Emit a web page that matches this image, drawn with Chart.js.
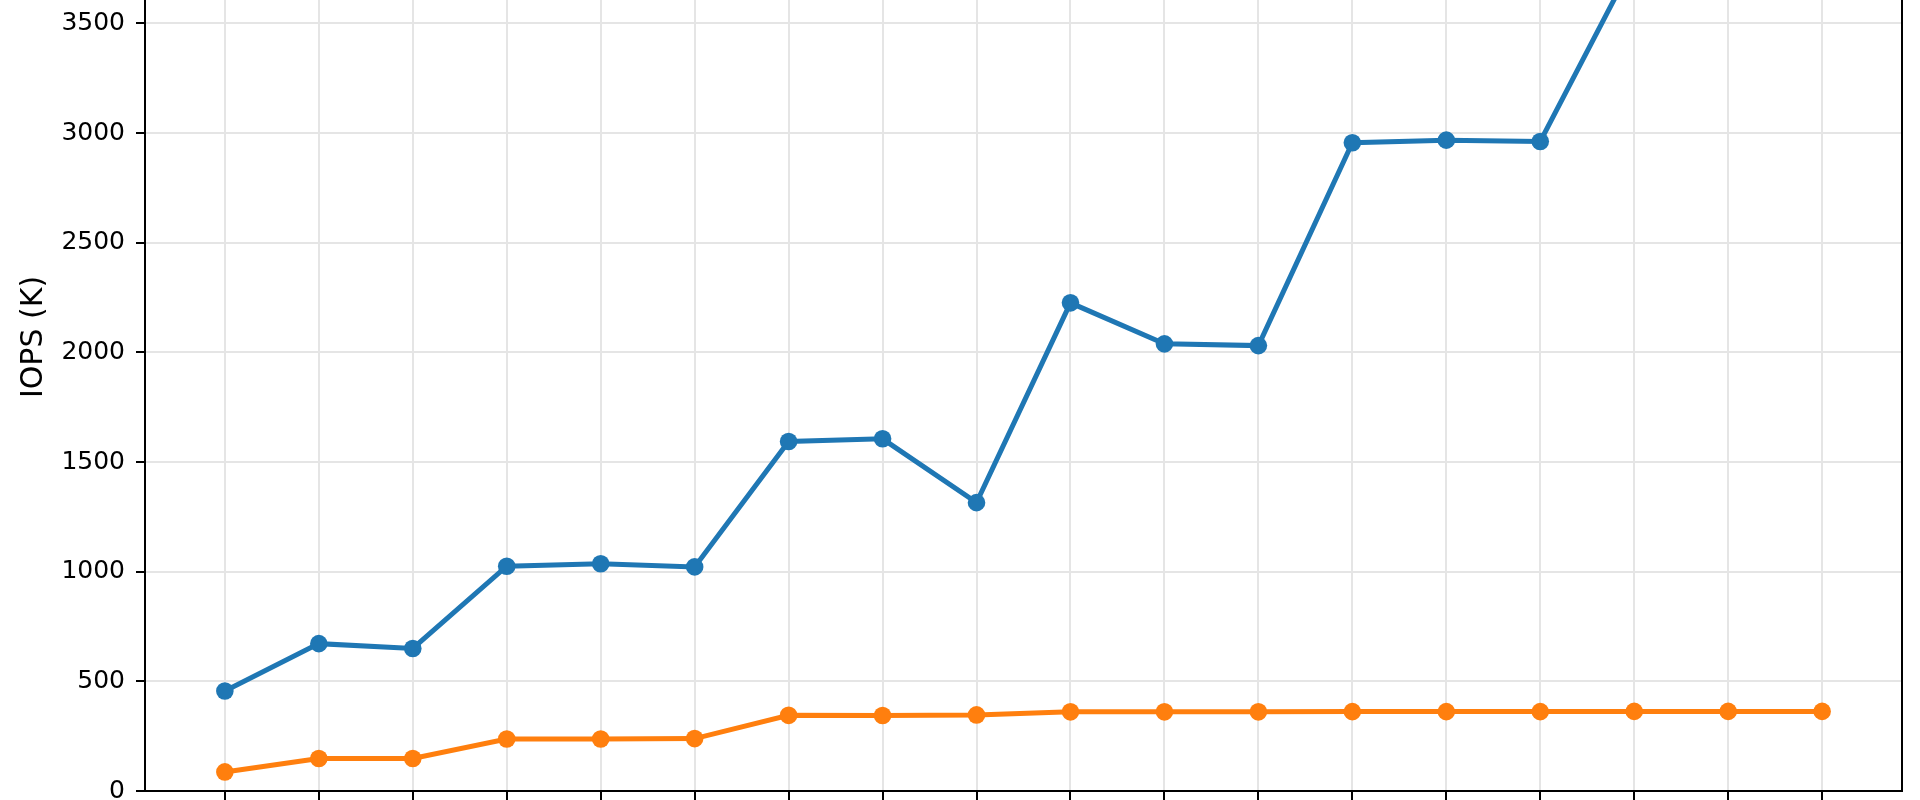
<!DOCTYPE html>
<html>
<head>
<meta charset="utf-8">
<script src="https://cdn.jsdelivr.net/npm/chart.js@4.4.1/dist/chart.umd.min.js"></script>
<style>
  html, body { margin: 0; padding: 0; background: #fff; }
  #wrap { width: 1920px; height: 800px; }
</style>
</head>
<body>
<div id="wrap"><canvas id="iopsChart" width="1920" height="800"></canvas></div>
<script>
// x positions (tick labels are cut off in the picture)
const steps = [0, 1, 2, 3, 4, 5, 6, 7, 8, 9, 10, 11, 12, 13, 14, 15, 16, 17];
// upper series (last points run off the top of the plot)
const blueIops = [456, 672, 650, 1025, 1036, 1022, 1594, 1606, 1315, 2226, 2039, 2031, 2956, 2968, 2962, 3785, 3800, 3790];
// lower series
const orangeIops = [87, 148, 148, 237, 237, 239, 345, 344, 347, 361, 361, 361, 362, 362, 362, 363, 363, 363];
const yTicks = [0, 500, 1000, 1500, 2000, 2500, 3000, 3500];

const FONT = "'DejaVu Sans', sans-serif";

// y title + right spine, placed like the original figure
const extras = {
  id: 'extras',
  afterDraw(chart) {
    const ctx = chart.ctx;
    const a = chart.chartArea;
    ctx.save();
    ctx.strokeStyle = '#000';
    ctx.lineWidth = 2;
    ctx.beginPath();
    ctx.moveTo(a.right, a.top);
    ctx.lineTo(a.right, a.bottom + 1);
    ctx.stroke();

    ctx.translate(41.5, 337);
    ctx.rotate(-Math.PI / 2);
    ctx.fillStyle = '#000';
    ctx.font = "30px " + FONT;
    ctx.textAlign = 'center';
    ctx.textBaseline = 'alphabetic';
    ctx.fillText('IOPS (K)', 0, 0);
    ctx.restore();
  }
};

const ctx = document.getElementById('iopsChart').getContext('2d');
new Chart(ctx, {
  type: 'line',
  data: {
    datasets: [{
      data: steps.map((s, i) => ({ x: s, y: blueIops[i] })),
      borderColor: '#1f77b4',
      backgroundColor: '#1f77b4',
      borderWidth: 5,
      pointRadius: 8.8,
      pointBorderWidth: 0,
      pointBackgroundColor: '#1f77b4',
      tension: 0
    }, {
      data: steps.map((s, i) => ({ x: s, y: orangeIops[i] })),
      borderColor: '#ff7f0e',
      backgroundColor: '#ff7f0e',
      borderWidth: 5,
      pointRadius: 8.8,
      pointBorderWidth: 0,
      pointBackgroundColor: '#ff7f0e',
      tension: 0
    }]
  },
  options: {
    responsive: false,
    animation: false,
    layout: { autoPadding: false, padding: { left: 0, right: 18, top: 0, bottom: 0 } },
    plugins: {
      legend: { display: false },
      tooltip: { enabled: false }
    },
    scales: {
      x: {
        type: 'linear',
        min: -0.85,
        max: 17.85,
        afterBuildTicks: (scale) => { scale.ticks = steps.map(v => ({ value: v })); },
        afterFit: (scale) => { scale.height = 9; },
        grid: { color: '#e5e5e5', lineWidth: 2, tickColor: '#000', tickWidth: 2, tickLength: 9 },
        border: { display: true, color: '#000', width: 2 },
        ticks: { display: false }
      },
      y: {
        min: 0,
        max: 3607,
        afterBuildTicks: (scale) => { scale.ticks = yTicks.map(v => ({ value: v })); },
        afterFit: (scale) => { scale.width = 145; scale.paddingTop = 0; scale.paddingBottom = 0; },
        grid: { color: '#e5e5e5', lineWidth: 2, tickColor: '#000', tickWidth: 2, tickLength: 9 },
        border: { display: true, color: '#000', width: 2 },
        ticks: {
          color: '#000',
          padding: 11,
          font: { family: FONT, size: 25 },
          callback: (v) => String(v)
        }
      }
    }
  },
  plugins: [extras]
});
</script>
</body>
</html>
